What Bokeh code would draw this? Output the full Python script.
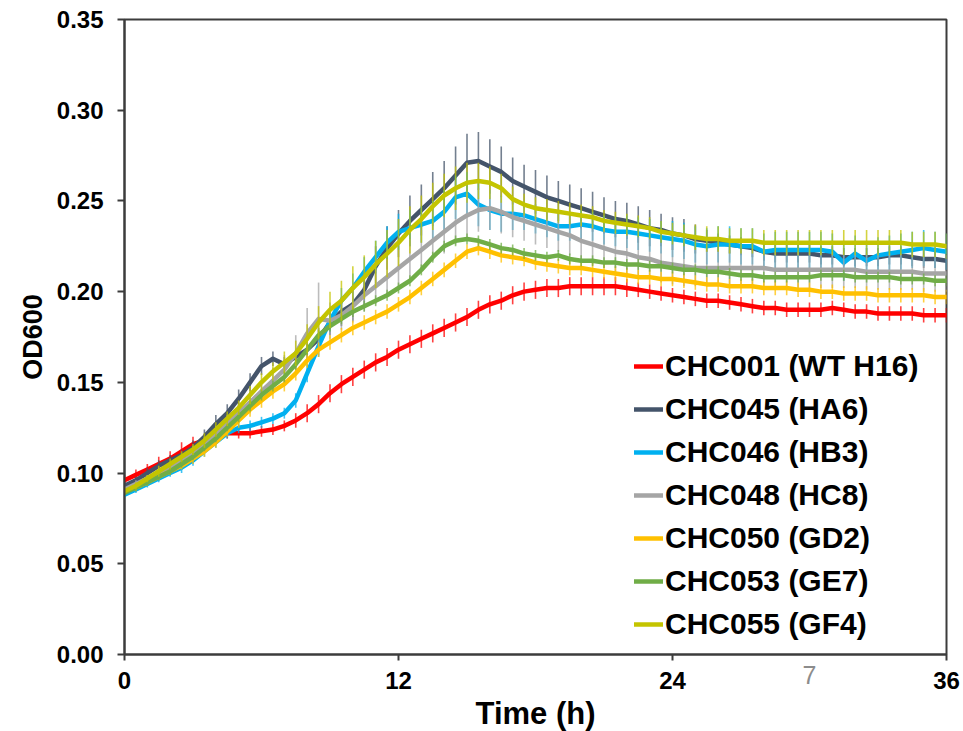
from bokeh.plotting import figure
from bokeh.models import (Legend, LegendItem, FixedTicker, Range1d, ColumnDataSource,
                          LinearAxis)
from bokeh.embed import file_html
from bokeh.resources import INLINE

hours = [0, 0.5, 1, 1.5, 2, 2.5, 3, 3.5, 4, 4.5, 5, 5.5, 6, 6.5, 7, 7.5, 8, 8.5, 9, 9.5,
         10, 10.5, 11, 11.5, 12, 12.5, 13, 13.5, 14, 14.5, 15, 15.5, 16, 16.5, 17, 17.5,
         18, 18.5, 19, 19.5, 20, 20.5, 21, 21.5, 22, 22.5, 23, 23.5, 24, 24.5, 25, 25.5,
         26, 26.5, 27, 27.5, 28, 28.5, 29, 29.5, 30, 30.5, 31, 31.5, 32, 32.5, 33, 33.5,
         34, 34.5, 35, 35.5, 36]

labels = ["CHC001 (WT H16)", "CHC045 (HA6)", "CHC046 (HB3)", "CHC048 (HC8)",
          "CHC050 (GD2)", "CHC053 (GE7)", "CHC055 (GF4)"]
colors = ["#FF0000", "#44546A", "#00B0F0", "#A5A5A5", "#FFC000", "#70AD47", "#C4C400"]

chc001 = [0.096, 0.099, 0.102, 0.105, 0.108, 0.112, 0.116, 0.118, 0.121, 0.122,
          0.122, 0.122, 0.123, 0.124, 0.126, 0.129, 0.133, 0.138, 0.144, 0.149,
          0.153, 0.157, 0.161, 0.164, 0.168, 0.171, 0.174, 0.177, 0.180, 0.183,
          0.186, 0.190, 0.193, 0.195, 0.198, 0.200, 0.201, 0.202, 0.202, 0.203,
          0.203, 0.203, 0.203, 0.203, 0.202, 0.201, 0.200, 0.199, 0.198, 0.197,
          0.196, 0.195, 0.195, 0.194, 0.193, 0.192, 0.191, 0.191, 0.190, 0.190,
          0.190, 0.190, 0.191, 0.190, 0.189, 0.189, 0.188, 0.188, 0.188, 0.188,
          0.187, 0.187, 0.187]
chc001_err = [0.003, 0.003, 0.003, 0.004, 0.004, 0.005, 0.004, 0.003, 0.003, 0.003,
              0.003, 0.003, 0.003, 0.003, 0.003, 0.004, 0.005, 0.005, 0.005, 0.005,
              0.005, 0.005, 0.005, 0.005, 0.005, 0.005, 0.005, 0.005, 0.005, 0.005,
              0.005, 0.005, 0.005, 0.005, 0.005, 0.005, 0.005, 0.005, 0.005, 0.005,
              0.005, 0.005, 0.005, 0.005, 0.005, 0.004, 0.004, 0.004, 0.004, 0.004,
              0.004, 0.004, 0.004, 0.004, 0.004, 0.004, 0.004, 0.004, 0.004, 0.004,
              0.004, 0.004, 0.004, 0.004, 0.004, 0.004, 0.004, 0.004, 0.004, 0.004,
              0.004, 0.004, 0.004]

chc045 = [0.093, 0.096, 0.100, 0.104, 0.107, 0.110, 0.114, 0.120, 0.127, 0.133,
          0.141, 0.150, 0.159, 0.163, 0.160, 0.164, 0.168, 0.174, 0.183, 0.189,
          0.193, 0.201, 0.214, 0.224, 0.232, 0.239, 0.245, 0.251, 0.257, 0.264,
          0.271, 0.272, 0.269, 0.266, 0.261, 0.258, 0.255, 0.252, 0.250, 0.248,
          0.246, 0.244, 0.242, 0.240, 0.239, 0.237, 0.235, 0.234, 0.232, 0.231,
          0.229, 0.228, 0.227, 0.226, 0.225, 0.224, 0.222, 0.221, 0.221, 0.221,
          0.221, 0.220, 0.220, 0.219, 0.219, 0.219, 0.219, 0.220, 0.220, 0.219,
          0.218, 0.218, 0.217]
chc045_err = [0.002, 0.002, 0.003, 0.003, 0.003, 0.003, 0.004, 0.004, 0.005, 0.005,
              0.005, 0.005, 0.005, 0.004, 0.004, 0.004, 0.005, 0.006, 0.007, 0.008,
              0.009, 0.010, 0.011, 0.012, 0.013, 0.014, 0.014, 0.015, 0.015, 0.016,
              0.016, 0.016, 0.015, 0.014, 0.013, 0.012, 0.012, 0.012, 0.011, 0.011,
              0.011, 0.011, 0.010, 0.010, 0.010, 0.010, 0.010, 0.009, 0.009, 0.009,
              0.008, 0.006, 0.005, 0.005, 0.005, 0.005, 0.005, 0.005, 0.005, 0.005,
              0.005, 0.005, 0.005, 0.005, 0.005, 0.005, 0.005, 0.005, 0.005, 0.005,
              0.005, 0.005, 0.005]

chc046 = [0.088, 0.091, 0.094, 0.097, 0.100, 0.103, 0.107, 0.112, 0.117, 0.122,
          0.125, 0.126, 0.128, 0.130, 0.133, 0.140, 0.155, 0.170, 0.184, 0.195,
          0.202, 0.211, 0.219, 0.227, 0.233, 0.235, 0.237, 0.239, 0.244, 0.252,
          0.254, 0.248, 0.245, 0.243, 0.243, 0.242, 0.240, 0.238, 0.236, 0.236,
          0.237, 0.236, 0.234, 0.233, 0.233, 0.232, 0.231, 0.230, 0.229, 0.228,
          0.226, 0.225, 0.226, 0.226, 0.225, 0.225, 0.222, 0.223, 0.223, 0.223,
          0.223, 0.223, 0.222, 0.216, 0.221, 0.217, 0.220, 0.221, 0.222, 0.223,
          0.224, 0.223, 0.222]
chc046_err = [0.002, 0.002, 0.002, 0.002, 0.002, 0.003, 0.003, 0.003, 0.003, 0.003,
              0.003, 0.003, 0.003, 0.003, 0.003, 0.004, 0.005, 0.006, 0.006, 0.007,
              0.008, 0.008, 0.009, 0.009, 0.010, 0.010, 0.010, 0.011, 0.012, 0.012,
              0.012, 0.012, 0.011, 0.010, 0.009, 0.008, 0.008, 0.008, 0.008, 0.008,
              0.008, 0.008, 0.008, 0.008, 0.009, 0.009, 0.009, 0.009, 0.010, 0.010,
              0.010, 0.010, 0.010, 0.010, 0.010, 0.010, 0.010, 0.010, 0.010, 0.010,
              0.010, 0.010, 0.010, 0.010, 0.010, 0.010, 0.010, 0.010, 0.010, 0.010,
              0.010, 0.010, 0.010]

chc048 = [0.091, 0.094, 0.097, 0.100, 0.103, 0.107, 0.111, 0.116, 0.121, 0.127,
          0.133, 0.139, 0.145, 0.151, 0.157, 0.166, 0.177, 0.185, 0.184, 0.187,
          0.192, 0.198, 0.203, 0.208, 0.213, 0.218, 0.223, 0.228, 0.233, 0.238,
          0.242, 0.245, 0.246, 0.244, 0.241, 0.239, 0.237, 0.235, 0.233, 0.231,
          0.228, 0.226, 0.224, 0.222, 0.221, 0.219, 0.218, 0.216, 0.215, 0.214,
          0.213, 0.213, 0.213, 0.213, 0.213, 0.213, 0.213, 0.212, 0.212, 0.212,
          0.212, 0.212, 0.212, 0.212, 0.212, 0.211, 0.211, 0.211, 0.211, 0.211,
          0.210, 0.210, 0.210]
chc048_err = [0.002, 0.002, 0.002, 0.003, 0.003, 0.003, 0.004, 0.004, 0.005, 0.005,
              0.005, 0.006, 0.006, 0.007, 0.008, 0.010, 0.014, 0.020, 0.010, 0.008,
              0.009, 0.009, 0.010, 0.010, 0.010, 0.011, 0.011, 0.011, 0.012, 0.012,
              0.012, 0.012, 0.012, 0.012, 0.011, 0.011, 0.011, 0.011, 0.011, 0.011,
              0.011, 0.011, 0.011, 0.011, 0.011, 0.011, 0.011, 0.011, 0.011, 0.011,
              0.010, 0.010, 0.010, 0.010, 0.010, 0.010, 0.010, 0.010, 0.010, 0.010,
              0.010, 0.010, 0.010, 0.010, 0.010, 0.010, 0.010, 0.010, 0.010, 0.010,
              0.010, 0.010, 0.010]

chc050 = [0.090, 0.092, 0.095, 0.098, 0.101, 0.104, 0.108, 0.112, 0.117, 0.123,
          0.129, 0.135, 0.140, 0.145, 0.149, 0.155, 0.162, 0.168, 0.172, 0.176,
          0.180, 0.183, 0.186, 0.189, 0.193, 0.197, 0.202, 0.207, 0.212, 0.217,
          0.222, 0.224, 0.222, 0.220, 0.219, 0.218, 0.216, 0.215, 0.214, 0.213,
          0.213, 0.212, 0.211, 0.210, 0.209, 0.208, 0.208, 0.207, 0.207, 0.206,
          0.205, 0.204, 0.204, 0.203, 0.203, 0.203, 0.202, 0.202, 0.202, 0.201,
          0.201, 0.200, 0.200, 0.199, 0.199, 0.199, 0.198, 0.198, 0.198, 0.198,
          0.198, 0.197, 0.197]
chc050_err = [0.002, 0.002, 0.002, 0.002, 0.002, 0.002, 0.003, 0.003, 0.003, 0.003,
              0.004, 0.004, 0.004, 0.004, 0.004, 0.004, 0.004, 0.004, 0.004, 0.004,
              0.004, 0.004, 0.004, 0.004, 0.004, 0.004, 0.004, 0.004, 0.004, 0.004,
              0.004, 0.004, 0.004, 0.004, 0.004, 0.004, 0.004, 0.004, 0.004, 0.004,
              0.004, 0.004, 0.004, 0.004, 0.004, 0.004, 0.004, 0.004, 0.004, 0.004,
              0.004, 0.004, 0.004, 0.004, 0.004, 0.004, 0.004, 0.004, 0.004, 0.004,
              0.004, 0.004, 0.004, 0.004, 0.004, 0.004, 0.004, 0.004, 0.004, 0.004,
              0.004, 0.004, 0.004]

chc053 = [0.089, 0.092, 0.095, 0.098, 0.101, 0.105, 0.109, 0.114, 0.119, 0.125,
          0.131, 0.137, 0.143, 0.148, 0.153, 0.160, 0.168, 0.176, 0.181, 0.185,
          0.189, 0.192, 0.195, 0.198, 0.202, 0.206, 0.212, 0.219, 0.225, 0.228,
          0.229, 0.228, 0.226, 0.224, 0.223, 0.221, 0.220, 0.219, 0.220, 0.218,
          0.217, 0.217, 0.216, 0.216, 0.215, 0.215, 0.214, 0.214, 0.213, 0.212,
          0.212, 0.211, 0.211, 0.210, 0.209, 0.209, 0.208, 0.208, 0.208, 0.208,
          0.208, 0.209, 0.209, 0.209, 0.208, 0.208, 0.208, 0.208, 0.207, 0.207,
          0.207, 0.206, 0.206]
chc053_err = [0.002, 0.002, 0.002, 0.002, 0.002, 0.002, 0.002, 0.002, 0.002, 0.002,
              0.003, 0.003, 0.003, 0.003, 0.003, 0.003, 0.003, 0.003, 0.003, 0.003,
              0.003, 0.003, 0.003, 0.003, 0.003, 0.003, 0.003, 0.003, 0.003, 0.003,
              0.003, 0.003, 0.003, 0.003, 0.003, 0.003, 0.003, 0.003, 0.003, 0.003,
              0.003, 0.003, 0.003, 0.003, 0.003, 0.003, 0.003, 0.003, 0.003, 0.003,
              0.003, 0.003, 0.003, 0.003, 0.003, 0.003, 0.003, 0.003, 0.003, 0.003,
              0.003, 0.003, 0.003, 0.003, 0.003, 0.003, 0.003, 0.003, 0.003, 0.003,
              0.003, 0.003, 0.003]

chc055 = [0.090, 0.093, 0.097, 0.101, 0.105, 0.109, 0.113, 0.118, 0.124, 0.130,
          0.136, 0.143, 0.150, 0.156, 0.161, 0.166, 0.174, 0.183, 0.190, 0.195,
          0.202, 0.208, 0.215, 0.221, 0.227, 0.234, 0.240, 0.247, 0.253, 0.257,
          0.260, 0.261, 0.260, 0.257, 0.251, 0.248, 0.246, 0.245, 0.244, 0.243,
          0.242, 0.241, 0.239, 0.238, 0.237, 0.236, 0.235, 0.233, 0.232, 0.231,
          0.230, 0.229, 0.229, 0.228, 0.228, 0.228, 0.227, 0.227, 0.227, 0.227,
          0.227, 0.227, 0.227, 0.227, 0.227, 0.227, 0.227, 0.227, 0.227, 0.226,
          0.226, 0.226, 0.225]
chc055_err = [0.002, 0.002, 0.002, 0.003, 0.003, 0.003, 0.003, 0.004, 0.004, 0.004,
              0.004, 0.005, 0.005, 0.005, 0.006, 0.007, 0.008, 0.009, 0.010, 0.011,
              0.012, 0.012, 0.013, 0.013, 0.013, 0.013, 0.013, 0.013, 0.012, 0.012,
              0.011, 0.010, 0.009, 0.008, 0.007, 0.006, 0.006, 0.006, 0.006, 0.006,
              0.006, 0.006, 0.006, 0.006, 0.006, 0.006, 0.006, 0.006, 0.006, 0.006,
              0.007, 0.007, 0.007, 0.007, 0.007, 0.007, 0.007, 0.007, 0.007, 0.007,
              0.007, 0.007, 0.007, 0.007, 0.007, 0.007, 0.007, 0.007, 0.007, 0.007,
              0.007, 0.007, 0.007]

series = [chc001, chc045, chc046, chc048, chc050, chc053, chc055]
errors = [chc001_err, chc045_err, chc046_err, chc048_err, chc050_err, chc053_err, chc055_err]

x_ticks = [0, 12, 24, 36]
y_ticks = [0.0, 0.05, 0.10, 0.15, 0.20, 0.25, 0.30, 0.35]
y_tick_labels = ["0.00", "0.05", "0.10", "0.15", "0.20", "0.25", "0.30", "0.35"]
page_number_pos = 30
page_number = "7"

FONT = "Liberation Sans"
AX = "#3c3c3c"

p = figure(frame_width=822, frame_height=635,
           x_range=Range1d(0, 36), y_range=Range1d(0, 0.35),
           output_backend="svg", toolbar_location=None,
           min_border_left=124, min_border_right=17,
           min_border_top=19, min_border_bottom=77)

p.grid.visible = False
p.outline_line_color = AX
p.outline_line_width = 2
p.background_fill_color = "white"
p.border_fill_color = "white"

for ax in (p.xaxis[0], p.yaxis[0]):
    ax.axis_line_color = AX
    ax.axis_line_width = 2
    ax.major_tick_line_color = AX
    ax.major_tick_line_width = 2
    ax.major_tick_in = 0
    ax.minor_tick_out = 0
    ax.minor_tick_in = 0
    ax.major_label_text_font = FONT
    ax.major_label_text_font_style = "bold"
    ax.major_label_text_color = "black"
    ax.axis_label_text_font = FONT
    ax.axis_label_text_font_style = "bold"
    ax.axis_label_text_color = "black"

p.xaxis.ticker = FixedTicker(ticks=x_ticks)
p.xaxis.major_tick_out = 6
p.xaxis.major_label_text_font_size = "24px"
p.xaxis.major_label_standoff = 11
p.xaxis.axis_label = "Time (h)"
p.xaxis.axis_label_text_font_size = "31px"
p.xaxis.axis_label_standoff = 4

p.yaxis.ticker = FixedTicker(ticks=y_ticks)
p.yaxis.major_label_overrides = {t: l for t, l in zip(y_ticks, y_tick_labels)}
p.yaxis.major_tick_out = 7
p.yaxis.major_label_text_font_size = "24px"
p.yaxis.major_label_standoff = 14
p.yaxis.axis_label = "OD600"
p.yaxis.axis_label_text_font_size = "27px"
p.yaxis.axis_label_standoff = 6

items = []
for name, col, vals, errs in zip(labels, colors, series, errors):
    src = ColumnDataSource(dict(
        t=hours, v=vals,
        lo=[a - b for a, b in zip(vals, errs)],
        hi=[a + b for a, b in zip(vals, errs)]))
    p.segment(x0="t", y0="lo", x1="t", y1="hi", source=src,
              line_color=col, line_width=1.6, line_alpha=0.75)
    r = p.line("t", "v", source=src, line_color=col, line_width=4.5,
               line_join="round", line_cap="round")
    items.append(LegendItem(label=name, renderers=[r]))

legend = Legend(items=items, location=(510, 13),
                padding=0, margin=0, spacing=9,
                glyph_width=29, glyph_height=20, label_standoff=2,
                label_text_font=FONT, label_text_font_size="30px",
                label_text_font_style="bold", label_text_color="black",
                border_line_alpha=0, background_fill_alpha=0)
p.add_layout(legend)

# slide page number: a label-only axis stacked under the x axis, its label pulled
# back up with a negative standoff; the blank axis label keeps its panel size ~0
page_axis = LinearAxis(ticker=FixedTicker(ticks=[page_number_pos]),
                       major_label_overrides={page_number_pos: page_number},
                       axis_line_alpha=0, major_tick_line_alpha=0,
                       minor_tick_line_alpha=0,
                       major_tick_out=0, major_tick_in=0,
                       minor_tick_out=0, minor_tick_in=0,
                       major_label_standoff=-68,
                       major_label_text_font=FONT, major_label_text_font_size="25px",
                       major_label_text_color="#8c8c8c",
                       axis_label=" ", axis_label_text_font_size="1px",
                       axis_label_standoff=42)
p.add_layout(page_axis, "below")

open("out.html", "w").write(file_html(p, INLINE))
